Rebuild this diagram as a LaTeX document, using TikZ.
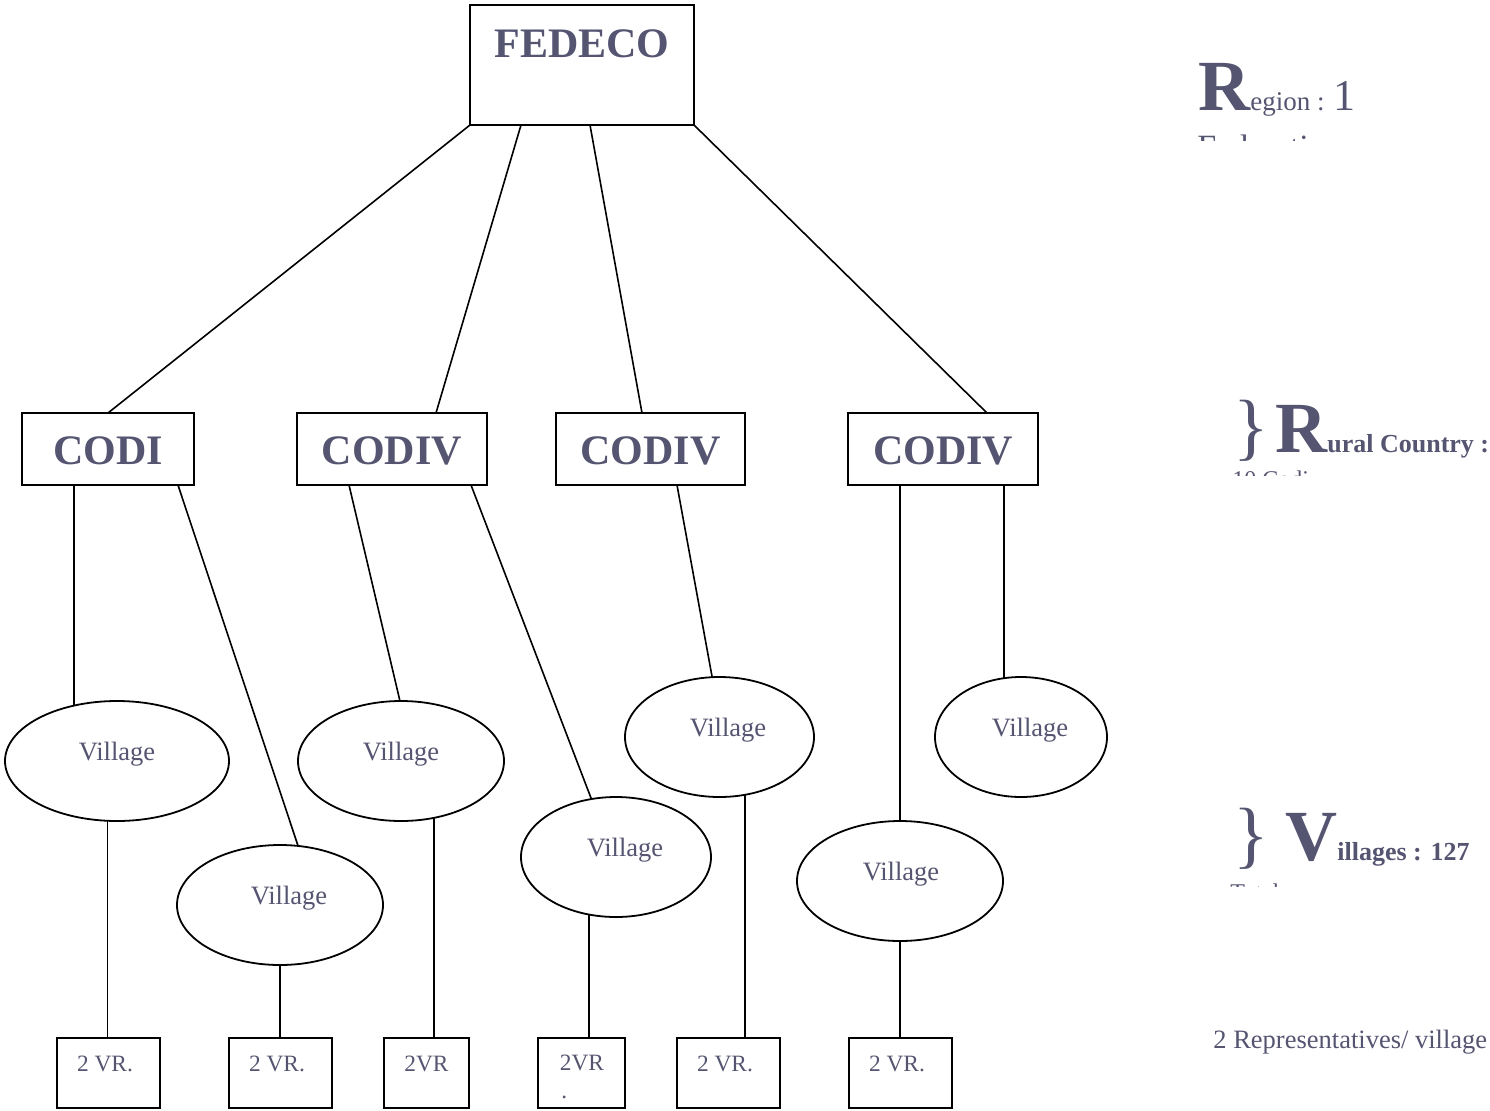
\documentclass[tikz,border=0pt]{standalone}
\usepackage{fontspec}
\setmainfont{Liberation Serif}
\usetikzlibrary{shapes.geometric,calc}
\definecolor{tc}{RGB}{85,85,114}
\tikzset{
  box/.style={draw, line width=0.9pt, inner sep=0pt, outer sep=0pt, rectangle},
  oval/.style={draw, ellipse, line width=0.9pt, inner sep=0pt, outer sep=0pt},
  con/.style={line width=0.8pt},
  headt/.style={text=tc, font=\fontsize{21}{25}\selectfont\bfseries, inner sep=0pt, anchor=base},
  vilt/.style={text=tc, font=\fontsize{13.25}{16}\selectfont, inner sep=0pt, anchor=base},
  vrt/.style={text=tc, font=\fontsize{11.7}{14}\selectfont, inner sep=0pt, anchor=base},
  sidet/.style={text=tc, inner sep=0pt, anchor=base west},
}
\begin{document}
\begin{tikzpicture}[x=0.5pt,y=-0.5pt]
\clip (0,0) rectangle (1490,1110);
\fill[white] (0,0) rectangle (1490,1110);

% top
\node[box, minimum width=112pt, minimum height=60pt] (fed) at (582,65) {};
\node[headt] (tfed) at (582,57) {FEDECO};

% second level
\node[box, minimum width=86pt, minimum height=36pt] (c1) at (108,449) {};
\node[box, minimum width=95pt, minimum height=36pt] (c2) at (392,449) {};
\node[box, minimum width=94.5pt, minimum height=36pt] (c3) at (650.5,449) {};
\node[box, minimum width=95pt, minimum height=36pt] (c4) at (943,449) {};
\node[headt] (tc1) at (108,464) {CODI};
\node[headt] (tc2) at (392,464) {CODIV};
\node[headt] (tc3) at (650.5,464) {CODIV};
\node[headt] (tc4) at (943,464) {CODIV};

% villages
\node[oval, minimum width=112pt, minimum height=60pt] (e1) at (117,761) {};
\node[oval, minimum width=103pt, minimum height=60pt] (e2) at (280,905) {};
\node[oval, minimum width=103pt, minimum height=60pt] (e3) at (401,761) {};
\node[oval, minimum width=95pt, minimum height=60pt] (e4) at (616,857) {};
\node[oval, minimum width=94.5pt, minimum height=60pt] (e5) at (719.5,737) {};
\node[oval, minimum width=86pt, minimum height=60pt] (e6) at (1021,737) {};
\node[oval, minimum width=103pt, minimum height=60pt] (e7) at (900,881) {};
\node[vilt] (te1) at (117,760) {Village};
\node[vilt] (te2) at (289,904) {Village};
\node[vilt] (te3) at (401,760) {Village};
\node[vilt] (te4) at (625,856) {Village};
\node[vilt] (te5) at (728,736) {Village};
\node[vilt] (te6) at (1030,736) {Village};
\node[vilt] (te7) at (901,880) {Village};

% representatives
\node[box, minimum width=51.5pt, minimum height=35pt] (v1) at (108.5,1073) {};
\node[box, minimum width=51.5pt, minimum height=35pt] (v2) at (280.5,1073) {};
\node[box, minimum width=42.5pt, minimum height=35pt] (v3) at (426.5,1073) {};
\node[box, minimum width=43.5pt, minimum height=35pt] (v4) at (581.5,1073) {};
\node[box, minimum width=51.5pt, minimum height=35pt] (v5) at (728.5,1073) {};
\node[box, minimum width=51.5pt, minimum height=35pt] (v6) at (900.5,1073) {};
\node[vrt] (tv1) at (105,1071) {2 VR.};
\node[vrt] (tv2) at (277,1071) {2 VR.};
\node[vrt] (tv3) at (426.5,1071) {2VR};
\node[vrt] (tv4) at (582,1070) {2VR};
\node[vrt, anchor=base west] (tv4b) at (561,1098) {.};
\node[vrt] (tv5) at (725,1071) {2 VR.};
\node[vrt] (tv6) at (897,1071) {2 VR.};

% connectors from FEDECO
\draw[con] (fed.south west) -- (c1.north);
\draw[con] ($(fed.south west)+(51,0)$) -- ($(c2.north west)+(139,0)$);
\draw[con] ($(fed.south west)+(120,0)$) -- ($(c3.north west)+(86,0)$);
\draw[con] (fed.south east) -- ($(c4.north west)+(139,0)$);

% CODI -> villages
\draw[con] (e1.128 |- c1.south) -- (e1.128);
\draw[con] ($(c1.south west)+(156,0)$) -- (e2.73.9);
\draw[con] ($(c2.south west)+(52,0)$) -- (e3.91);
\draw[con] ($(c2.south west)+(174,0)$) -- (e4.113.3);
\draw[con] ($(c3.south west)+(121,0)$) -- (e5.97.7);
\draw[con] (e7.north |- c4.south) -- (e7.north);
\draw[con] (e6.106 |- c4.south) -- (e6.106);

% villages -> representatives
\draw[con] (e1.261.2) -- (e1.261.2 |- v1.north);
\draw[con] (e2.south) -- (e2.south |- v2.north);
\draw[con] (e3.300.8) -- (e3.300.8 |- v3.north);
\draw[con] (e4.245.5) -- (e4.245.5 |- v4.north);
\draw[con] (e5.294.5) -- (e5.294.5 |- v5.north);
\draw[con] (e7.south) -- (e7.south |- v6.north);

% right-hand legend
\node[sidet] (reg) at (1198,110) {\fontsize{36}{40}\selectfont\bfseries R\fontsize{13.5}{16}\selectfont\mdseries egion : \fontsize{22}{26}\selectfont 1};
\begin{scope}
  \clip (1190,125) rectangle (1370,140);
  \node[sidet, font=\fontsize{17}{20}\selectfont] (regb) at (1197,158) {Federation};
\end{scope}

\node[sidet, font=\fontsize{37}{40}\selectfont] (br1) at (1233,451) {\}};
\node[sidet] (rur) at (1275,452) {\bfseries\fontsize{36}{40}\selectfont R\fontsize{13}{16}\selectfont ural Country :};
\begin{scope}
  \clip (1225,460) rectangle (1320,475);
  \node[sidet, font=\fontsize{12}{14}\selectfont] (rurb) at (1232,487) {10 Codiv};
\end{scope}

\node[sidet, font=\fontsize{37}{40}\selectfont] (br2) at (1233,859) {\}};
\node[sidet] (vil) at (1285,860) {\bfseries\fontsize{36}{40}\selectfont V\fontsize{13}{16}\selectfont illages : 127};
\begin{scope}
  \clip (1225,880) rectangle (1280,886);
  \node[sidet, font=\fontsize{12}{14}\selectfont] (vilb) at (1230,900) {Total};
\end{scope}

\node[sidet, font=\fontsize{13.25}{16}\selectfont] (rep) at (1213,1048) {2 Representatives/ village};
\end{tikzpicture}
\end{document}
